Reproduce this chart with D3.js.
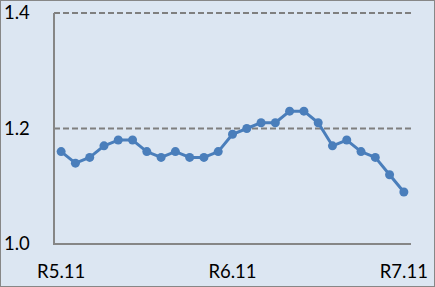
<!DOCTYPE html>
<html>
<head>
<meta charset="utf-8">
<script src="https://cdn.jsdelivr.net/npm/d3@7"></script>
<style>
  body { margin: 0; background: #fff; }
  svg { display: block; }
</style>
</head>
<body>
<svg width="435" height="287"></svg>
<script>
const months = [
    "R5.11", "R5.12", "R6.1", "R6.2", "R6.3", "R6.4", "R6.5", "R6.6", "R6.7",
    "R6.8", "R6.9", "R6.10", "R6.11", "R6.12", "R7.1", "R7.2", "R7.3", "R7.4",
    "R7.5", "R7.6", "R7.7", "R7.8", "R7.9", "R7.10", "R7.11"
];
const values = [
    1.16, 1.14, 1.15, 1.17, 1.18, 1.18, 1.16, 1.15, 1.16, 1.15, 1.15, 1.16,
    1.19, 1.20, 1.21, 1.21, 1.23, 1.23, 1.21, 1.17, 1.18, 1.16, 1.15, 1.12, 1.09
];
const xLabels = ["R5.11", "R6.11", "R7.11"];
const yTicks = [1.0, 1.2, 1.4];

const svg = d3.select("svg");
const W = 435, H = 287;
const margin = { top: 13, right: 24, bottom: 43, left: 54 };
const width = W - margin.left - margin.right;
const height = H - margin.top - margin.bottom;

svg.append("rect")
    .attr("x", 0.5).attr("y", 0.5)
    .attr("width", W - 1).attr("height", H - 1)
    .attr("fill", "#dce6f2")
    .attr("stroke", "#878787");

const x = d3.scalePoint().domain(months).range([0, width]).padding(0.5);
const y = d3.scaleLinear().domain([1.0, 1.4]).range([height, 0]);

const g = svg.append("g")
    .attr("transform", "translate(" + margin.left + "," + margin.top + ")");

// dashed gridlines
g.selectAll(".grid")
    .data(yTicks.filter(d => d > 1.0))
    .enter().append("line")
        .attr("x1", 0).attr("x2", width)
        .attr("y1", d => y(d)).attr("y2", d => y(d))
        .attr("stroke", "#7f7f7f")
        .attr("stroke-width", 2)
        .attr("stroke-dasharray", "6,3");

// axes lines
g.append("line")
    .attr("x1", 0).attr("x2", 0)
    .attr("y1", 0).attr("y2", height)
    .attr("stroke", "#868686").attr("stroke-width", 2);
g.append("line")
    .attr("x1", -1).attr("x2", width)
    .attr("y1", height).attr("y2", height)
    .attr("stroke", "#868686").attr("stroke-width", 2);

const font = "Lato, 'Open Sans', sans-serif";

// y tick labels
g.selectAll(".ylab")
    .data(yTicks)
    .enter().append("text")
        .attr("x", -50)
        .attr("y", d => y(d) + 6)
        .attr("font-family", font)
        .attr("font-size", 18.5)
        .attr("fill", "#000")
        .text(d => d.toFixed(1));

// x labels
g.selectAll(".xlab")
    .data(xLabels)
    .enter().append("text")
        .attr("x", d => x(d))
        .attr("y", height + 34)
        .attr("text-anchor", "middle")
        .attr("font-family", font)
        .attr("font-size", 18.5)
        .attr("fill", "#000")
        .text(d => d);

const line = d3.line()
    .x((d, i) => x(months[i]))
    .y(d => y(d));

g.append("path")
    .datum(values)
    .attr("fill", "none")
    .attr("stroke", "#4a7ebb")
    .attr("stroke-width", 3)
    .attr("stroke-linejoin", "round")
    .attr("d", line);

g.selectAll(".dot")
    .data(values)
    .enter().append("circle")
        .attr("cx", (d, i) => x(months[i]))
        .attr("cy", d => y(d))
        .attr("r", 4.5)
        .attr("fill", "#4a7ebb");
</script>
</body>
</html>
